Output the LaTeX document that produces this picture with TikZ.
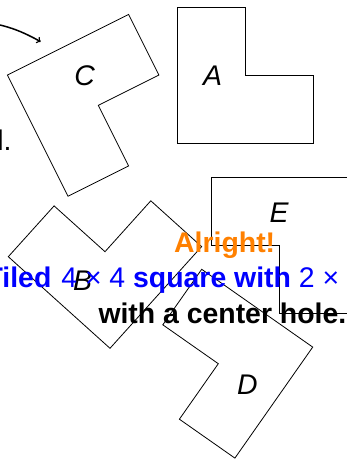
\documentclass[tikz,border=0pt]{standalone}
\usepackage{fontspec}
\setmainfont{Liberation Sans}
\begin{document}
\begin{tikzpicture}[x=1pt, y=1pt, piece/.style={draw, line width=0.8pt}, lbl/.style={inner sep=0pt, font=\fontsize{28.4}{34}\selectfont\itshape}, txt/.style={inner sep=0pt, anchor=base west, font=\fontsize{28.4}{34}\selectfont\bfseries}, >=to]
        \useasboundingbox (0,0) rectangle (347,-460);
        \draw[piece] (177.7,-7.3) -- (245.7,-7.3) -- (245.7,-75.5) -- (313.3,-75.5) -- (313.3,-143.3) -- (177.7,-143.3) -- cycle;
        \draw[piece] (7.4,-75) -- (128.6,-14.4) -- (158.9,-75) -- (98.3,-105.3) -- (128.6,-165.9) -- (68,-196.2) -- cycle;
        \draw[piece] (211.7,-177) -- (347.3,-177) -- (347.3,-313.3) -- (279.5,-313.3) -- (279.5,-245.3) -- (211.7,-245.3) -- cycle;
        \draw[piece] (8.3,-256.7) -- (54.1,-205.9) -- (105,-251.7) -- (150.8,-200.8) -- (201.6,-246.6) -- (110,-348.3) -- cycle;
        \draw[piece] (201.7,-269.3) -- (312.7,-347.1) -- (234.9,-458.1) -- (179.4,-419.2) -- (218.3,-363.7) -- (162.8,-324.8) -- cycle;
        \node[lbl] (A) at (212.7,-75.5) {A};
        \node[lbl] (C) at (84.7,-75.8) {C};
        \node[lbl] (E) at (279.2,-212.7) {E};
        \node[lbl] (B) at (82.5,-280.8) {B};
        \node[lbl] (D) at (247.5,-384.5) {D};
        \node[txt, text=orange] (alright) at (174,-252.7) {Alright!};
        \node[txt, text=blue] (tiled) at (-14.6,-287.3) {Tiled\hspace{10pt}{\mdseries 4 × 4} square with {\mdseries 2 ×}};
        \node[txt] (hole) at (98.3,-323.3) {with a center hole.};
        \node[txt, font=\fontsize{28.4}{34}\selectfont] (tail) at (-2.8,-150) {l.};
        \coordinate (arrowstart) at (-25,-21);
        \coordinate (arrowend) at (40.7,-41.7);
        \draw[->, line width=1.5pt] (arrowstart) to[out=-6, in=151] (arrowend);
    \end{tikzpicture}
\end{document}
